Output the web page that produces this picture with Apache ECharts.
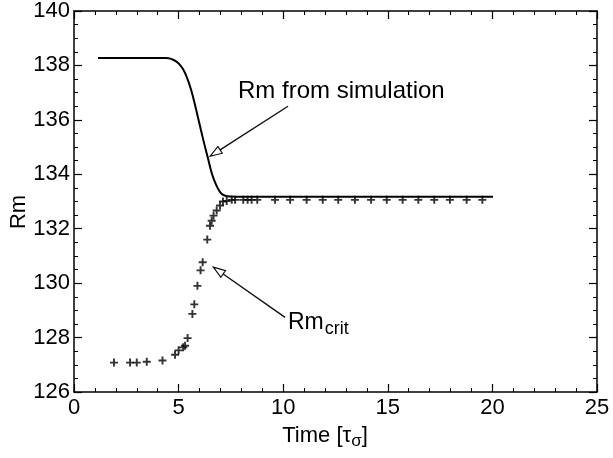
<!DOCTYPE html>
<html>
<head>
<meta charset="utf-8">
<script src="https://cdn.jsdelivr.net/npm/echarts@6/dist/echarts.min.js"></script>
<style>
html,body{margin:0;padding:0;background:#fff;}
#chart{width:613px;height:458px;}
</style>
</head>
<body>
<div id="chart"></div>
<script>
// ---- data ----
const xTicks = [0, 5, 10, 15, 20, 25];
const yTicks = [126, 128, 130, 132, 134, 136, 138, 140];

// Rm from simulation (solid curve)
const simTime = [1.15, 4.4, 4.9, 5.2, 5.4, 5.6, 5.8, 6.0, 6.2, 6.4, 6.6, 6.8, 7.0, 7.2, 7.5, 8.0, 20.03];
const simRm   = [138.27, 138.27, 138.14, 137.88, 137.55, 137.1, 136.5, 135.85, 135.2, 134.6, 134.0, 133.6, 133.33, 133.22, 133.18, 133.17, 133.17];

// Rm_crit (+ markers)
const critTime = [1.91, 2.68, 3.00, 3.48, 4.23, 4.83, 5.00, 5.22, 5.31, 5.43, 5.66, 5.75, 5.90, 6.05, 6.15,
  6.37, 6.50, 6.58, 6.67, 6.82, 6.98, 7.12, 7.30, 7.54, 7.70, 8.09, 8.30, 8.49, 8.76,
  9.61, 10.33, 11.12, 11.89, 12.63, 13.43, 14.20, 14.95, 15.71, 16.46, 17.22, 17.97, 18.77, 19.52];
const critRm = [127.08, 127.08, 127.08, 127.11, 127.16, 127.37, 127.53, 127.64, 127.70, 127.98, 128.87, 129.22, 129.90, 130.47, 130.77,
  131.60, 132.11, 132.29, 132.48, 132.67, 132.85, 133.00, 133.02, 133.06, 133.06, 133.06, 133.06, 133.06, 133.06,
  133.06, 133.06, 133.06, 133.06, 133.06, 133.06, 133.06, 133.06, 133.06, 133.06, 133.06, 133.06, 133.06, 133.06];

// annotation anchors (data coordinates)
const simLabelPos = [7.84, 137.06];
const simArrowTail = [10.23, 136.50];
const simArrowHead = [6.50, 134.66];
const critLabelPos = [10.23, 128.55];
const critArrowTail = [10.09, 128.74];
const critArrowHead = [6.66, 130.59];

// ---- chart ----
const FONT = '"Liberation Sans", Arial, Helvetica, sans-serif';
const chart = echarts.init(document.getElementById('chart'), null, {renderer: 'canvas'});

function xAx(pos, show) {
  return {
    type: 'value', position: pos, min: 0, max: 25, interval: 5,
    axisLine: {show: true, onZero: false, lineStyle: {color: '#000', width: 1.5}},
    axisTick: {show: true, inside: true, length: 8, lineStyle: {color: '#000', width: 1.2}},
    minorTick: {show: true, splitNumber: 5, length: 4, lineStyle: {color: '#000', width: 1}},
    axisLabel: {show: show, color: '#000', fontSize: 22, fontFamily: FONT, margin: 5},
    splitLine: {show: false}
  };
}
function yAx(pos, show) {
  return {
    type: 'value', position: pos, min: 126, max: 140, interval: 2,
    axisLine: {show: true, onZero: false, lineStyle: {color: '#000', width: 1.5}},
    axisTick: {show: true, inside: true, length: 8, lineStyle: {color: '#000', width: 1.2}},
    minorTick: {show: true, splitNumber: 4, length: 4, lineStyle: {color: '#000', width: 1}},
    axisLabel: {show: show, color: '#000', fontSize: 22, fontFamily: FONT, margin: 4},
    splitLine: {show: false}
  };
}

const plusPath = 'path://M3.8,0H6.2V3.8H10V6.2H6.2V10H3.8V6.2H0V3.8H3.8Z';

chart.setOption({
  animation: false,
  backgroundColor: '#fff',
  grid: {left: 74, right: 16, top: 11, bottom: 66},
  xAxis: [xAx('bottom', true), xAx('top', false)],
  yAxis: [yAx('left', true), yAx('right', false)],
  series: [
    {
      type: 'line', name: 'sim', xAxisIndex: 0, yAxisIndex: 0,
      data: simTime.map((t, i) => [t, simRm[i]]),
      smooth: 0.4, showSymbol: false, symbol: 'none',
      lineStyle: {color: '#000', width: 2}
    },
    {
      type: 'scatter', name: 'crit', xAxisIndex: 0, yAxisIndex: 0,
      data: critTime.map((t, i) => [t, critRm[i]]),
      symbol: plusPath, symbolSize: 8,
      itemStyle: {color: '#000'}
    }
  ]
});

// ---- annotations ----
const px = p => chart.convertToPixel({xAxisIndex: 0, yAxisIndex: 0}, p);
const ctx = document.createElement('canvas').getContext('2d');
function tw(text, size) { ctx.font = size + 'px ' + FONT; return ctx.measureText(text).width; }

function arrow(tail, head) {
  const a = px(tail), b = px(head);
  const dx = b[0] - a[0], dy = b[1] - a[1];
  const L = Math.hypot(dx, dy), ux = dx / L, uy = dy / L;
  const len = 12, hw = 4;
  const bx = b[0] - ux * len, by = b[1] - uy * len;
  const p1 = [bx - uy * hw, by + ux * hw], p2 = [bx + uy * hw, by - ux * hw];
  return [
    {type: 'line', shape: {x1: a[0], y1: a[1], x2: bx, y2: by}, style: {stroke: '#111', lineWidth: 1.4}, z: 100},
    {type: 'polygon', shape: {points: [b, p1, p2]}, style: {fill: '#fff', stroke: '#111', lineWidth: 1.2}, z: 100}
  ];
}

const g = [];
const sp = px(simLabelPos);
g.push({type: 'text', x: sp[0], y: sp[1], style: {text: 'Rm from simulation', font: '24px ' + FONT, fill: '#000', textAlign: 'left', textVerticalAlign: 'middle'}, z: 100});
g.push(...arrow(simArrowTail, simArrowHead));

const cp = px(critLabelPos);
g.push({type: 'text', x: cp[0], y: cp[1], style: {text: 'Rm', font: '23px ' + FONT, fill: '#000', textAlign: 'left', textVerticalAlign: 'middle'}, z: 100});
g.push({type: 'text', x: cp[0] + tw('Rm', 23) + 1, y: cp[1] + 6, style: {text: 'crit', font: '18px ' + FONT, fill: '#000', textAlign: 'left', textVerticalAlign: 'middle'}, z: 100});
g.push(...arrow(critArrowTail, critArrowHead));

// x axis title: Time [τσ]
const t1 = 'Time [τ', t2 = 'σ', t3 = ']';
const w1 = tw(t1, 22), w2 = tw(t2, 17), w3 = tw(t3, 22);
const tot = w1 + w2 + w3;
const cx = 325, cy = 436;
let x0 = cx - tot / 2;
g.push({type: 'text', x: x0, y: cy, style: {text: t1, font: '22px ' + FONT, fill: '#000', textAlign: 'left', textVerticalAlign: 'middle'}});
g.push({type: 'text', x: x0 + w1, y: cy + 5, style: {text: t2, font: '17px ' + FONT, fill: '#000', textAlign: 'left', textVerticalAlign: 'middle'}});
g.push({type: 'text', x: x0 + w1 + w2, y: cy, style: {text: t3, font: '22px ' + FONT, fill: '#000', textAlign: 'left', textVerticalAlign: 'middle'}});

// y axis title: Rm (rotated)
g.push({type: 'text', x: 19, y: 212, rotation: Math.PI / 2, style: {text: 'Rm', font: '22px ' + FONT, fill: '#000', textAlign: 'center', textVerticalAlign: 'middle'}});

chart.setOption({graphic: g});
</script>
</body>
</html>
